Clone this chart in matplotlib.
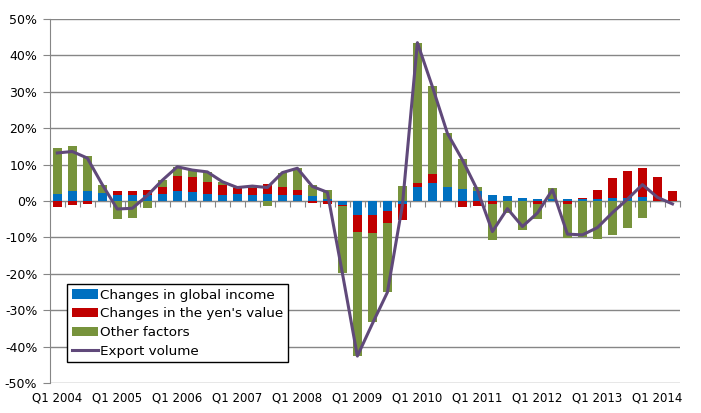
import matplotlib.pyplot as plt
import numpy as np

quarters = ['Q%d %d' % (q, y) for y in range(2004, 2015) for q in range(1, 5)][:42]

global_income = [1.9, 2.7, 2.7, 2.2, 1.6, 1.6, 1.6, 1.9, 2.7, 2.5, 2.0, 1.7, 2.0, 1.7,
                 2.0, 1.7, 1.7, 1.4, 0.6, -1.0, -3.9, -3.9, -2.8, -0.7, 3.8, 4.9, 3.8,
                 3.3, 2.8, 1.7, 1.5, 0.9, 0.6, 0.6, 0.6, 0.5, 0.6, 0.9, 0.9, 1.2, 0.0, 0.0]
yen_value = [-1.6, -1.1, -0.8, 0.0, 1.1, 1.1, 1.4, 1.9, 4.2, 4.1, 3.2, 2.7, 1.6, 1.9,
             2.7, 2.2, 1.4, -0.5, -0.7, -0.3, -4.6, -4.9, -3.3, -4.5, 1.1, 2.5, 0.0,
             -1.6, -1.3, -0.7, 0.0, 0.0, -0.7, 0.0, -0.7, 0.3, 2.5, 5.4, 7.3, 7.8, 6.6, 2.8]
other = [12.6, 12.3, 9.8, 2.2, -4.9, -4.6, -1.8, 1.9, 2.5, 1.9, 2.7, 0.8, 0.3, 0.5,
         -1.3, 3.8, 5.9, 3.0, 2.5, -18.4, -34.1, -24.5, -18.9, 4.1, 38.5, 24.2, 14.9,
         8.2, 1.1, -10.0, -3.3, -8.0, -4.3, 3.1, -9.4, -10.0, -10.5, -9.4, -7.5, -4.8, 0.0, 0.0]
export_volume = [13.2, 13.6, 11.8, 4.5, -2.2, -2.0, 1.5, 5.7, 9.4, 8.5, 8.0, 5.3, 3.7, 4.1,
                 3.7, 7.8, 9.0, 4.0, 2.4, -19.8, -42.6, -33.7, -25.1, -1.2, 43.5, 31.4,
                 18.6, 11.3, 3.0, -8.4, -2.1, -7.0, -3.3, 3.1, -9.1, -9.3, -7.3, -3.2,
                 0.5, 4.5, 1.0, -0.8]

series = [('Changes in global income', global_income, '#0070C0'),
          ("Changes in the yen's value", yen_value, '#C00000'),
          ('Other factors', other, '#77933C')]

plt.rcParams['font.family'] = ['DejaVu Sans']
fig = plt.figure(figsize=(7.01, 4.13), dpi=100)
ax = fig.add_axes([0.071, 0.0726, 0.899, 0.8814])

x = np.arange(len(quarters))
pos_bottom = np.zeros(len(x))
neg_bottom = np.zeros(len(x))
handles = []
for label, vals, color in series:
    vals = np.array(vals)
    bottom = np.where(vals >= 0, pos_bottom, neg_bottom)
    h = ax.bar(x, vals, 0.6, bottom=bottom, color=color, label=label, zorder=3)
    handles.append(h)
    pos_bottom += np.where(vals >= 0, vals, 0)
    neg_bottom += np.where(vals < 0, vals, 0)

line, = ax.plot(x, export_volume, color='#60497A', lw=2.2, label='Export volume', zorder=4)
handles.append(line)

ax.set_xlim(-0.5, len(x) - 0.5)
ax.set_ylim(-50, 50)
ax.set_yticks(np.arange(-50, 51, 10))
ax.set_yticklabels(['%d%%' % v for v in range(-50, 51, 10)], fontsize=9)
ax.grid(axis='y', color='#868686', lw=1, zorder=0)

# category axis sits on zero, labels along the bottom
ax.spines['bottom'].set_position(('data', 0))
ax.spines['bottom'].set_color('#868686')
ax.spines['left'].set_color('#868686')
ax.spines['top'].set_visible(False)
ax.spines['right'].set_visible(False)
ax.set_xticks(np.arange(-0.5, len(x), 1))
ax.set_xticklabels([])
ax.tick_params(axis='x', length=4, color='#868686')
ax.tick_params(axis='y', length=5, color='#868686', pad=4)
for i in range(0, len(x), 4):
    ax.text(i, -0.041, quarters[i], transform=ax.get_xaxis_transform(),
            ha='center', va='center', fontsize=8.5)

leg = ax.legend(handles=handles, loc='upper left', bbox_to_anchor=(0.027, 0.272),
                borderaxespad=0, fontsize=9.7, fancybox=False, framealpha=1,
                edgecolor='black', handlelength=2.0, handleheight=0.7,
                labelspacing=0.42, handletextpad=0.15, borderpad=0.35)
leg.get_frame().set_linewidth(1)

plt.savefig('out.png', dpi=100)
